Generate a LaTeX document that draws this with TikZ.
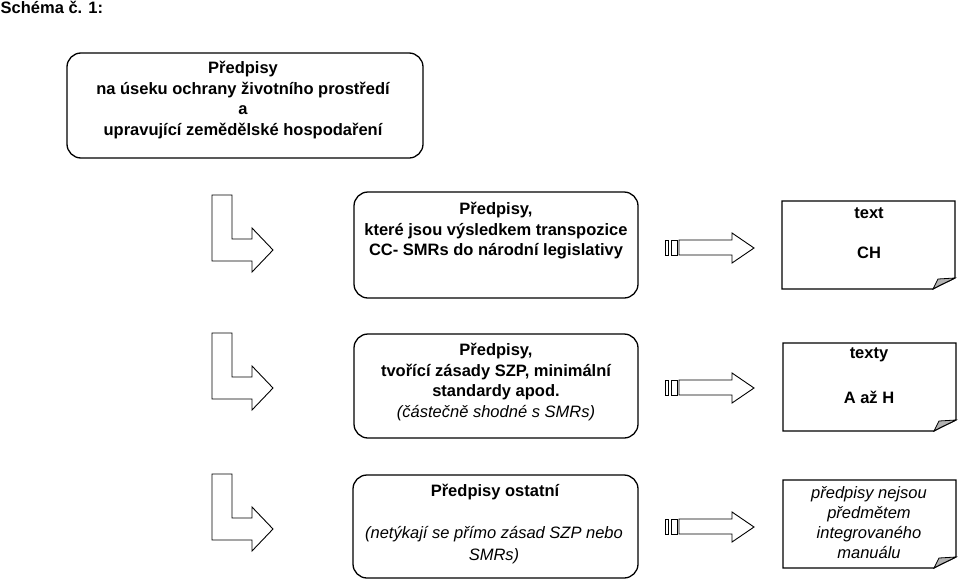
\documentclass[tikz,border=0pt]{standalone}
\usepackage{fontspec}
\setmainfont{Liberation Sans}
\begin{document}
\begin{tikzpicture}[x=1pt,y=-1pt,
  box/.style={draw, line width=1.3pt, rounded corners=14pt, inner sep=0pt},
  txt/.style={align=center, font=\bfseries\fontsize{16.5}{20.5}\selectfont, inner sep=0pt},
  itxt/.style={align=center, font=\itshape\fontsize{16.5}{21}\selectfont, inner sep=0pt},
  blockarrow/.style={draw, line width=0.9pt, line join=miter},
  docline/.style={draw, line width=1.3pt, line join=miter},
  flap/.style={draw, fill=black!30, line width=0.8pt}]
\useasboundingbox (0,0) rectangle (960,581);
\fill[white] (0,0) rectangle (960,581);

% title
\node[anchor=base west, font=\bfseries\fontsize{16.5}{20}\selectfont, inner sep=0pt] (title) at (0.5,13.5) {Schéma č. 1:};

% rounded boxes
\node[box, minimum width=356pt, minimum height=105pt] (b1) at (245,105.5) {};
\node[box, minimum width=284pt, minimum height=106pt] (b2) at (496,245) {};
\node[box, minimum width=284pt, minimum height=104pt] (b3) at (496,386) {};
\node[box, minimum width=285pt, minimum height=103pt] (b4) at (495.5,526.5) {};

% box texts
\node[txt] (t1) at (243,100) {Předpisy\\na úseku ochrany životního prostředí\\a\\upravující zemědělské hospodaření};
\node[txt] (t2) at (496,231) {Předpisy,\\které jsou výsledkem transpozice\\CC- SMRs do národní legislativy};
\node[txt] (t3) at (496,382) {Předpisy,\\tvořící zásady SZP, minimální\\standardy apod.\\{\mdseries\itshape (částečně shodné s SMRs)}};
\node[txt] (t4a) at (495,492) {Předpisy ostatní};
\node[itxt, font=\itshape\fontsize{16.5}{22.5}\selectfont] (t4b) at (494,545) {(netýkají se přímo zásad SZP nebo\\SMRs)};

% bent arrows
\foreach \dy in {0,138,279}{
  \draw[blockarrow] (212,195+\dy) -- (232,195+\dy) -- (232,239+\dy) -- (252,239+\dy)
    -- (252,228+\dy) -- (273,250+\dy) -- (252,272+\dy) -- (252,261+\dy) -- (212,261+\dy) -- cycle;
}

% striped arrows
\foreach \dy in {0,140,279}{
  \draw[blockarrow] (665,240+\dy) rectangle (668,255+\dy);
  \draw[blockarrow] (671,240+\dy) rectangle (677,255+\dy);
  \draw[blockarrow] (679,240+\dy) -- (732,240+\dy) -- (732,233+\dy) -- (754,248+\dy)
    -- (732,263+\dy) -- (732,255+\dy) -- (679,255+\dy) -- cycle;
}

% document shapes with curled corner
\foreach \L/\T/\R/\B in {782/201/955/289, 783/343/956/431, 783/480/956/568}{
  \draw[docline] (\L,\T) -- (\R,\T) -- (\R,{\B-11})
    .. controls ({\R-8},{\B-7}) and ({\R-15},{\B-4}) .. ({\R-22},\B) -- (\L,\B) -- cycle;
  \draw[flap] ({\R-22},\B) -- ({\R-17},{\B-10}) -- (\R,{\B-11})
    .. controls ({\R-8},{\B-7}) and ({\R-15},{\B-4}) .. cycle;
}

% document texts
\node[txt] (d1a) at (869,213) {text};
\node[txt] (d1b) at (869,253) {CH};
\node[txt] (d2a) at (869,355) {texty};
\node[txt] (d2b) at (869,397) {A až H};
\node[itxt, font=\itshape\fontsize{16.5}{20}\selectfont] (d3) at (869,523) {předpisy nejsou\\předmětem\\integrovaného\\manuálu};
\end{tikzpicture}
\end{document}
